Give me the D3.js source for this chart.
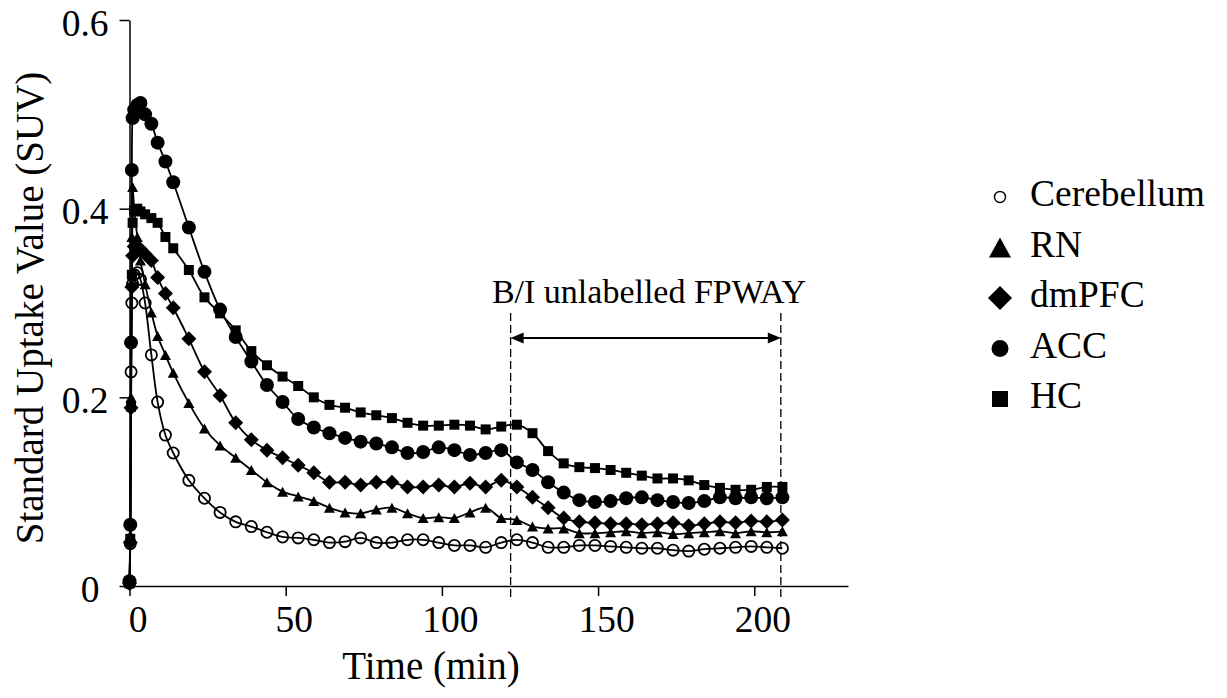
<!DOCTYPE html>
<html>
<head>
<meta charset="utf-8">
<script src="https://cdn.jsdelivr.net/npm/d3@7"></script>
<style>
    html, body { margin: 0; padding: 0; background: #fff; }
    svg text { font-family: "Liberation Serif", "Tinos", "Times New Roman", "DejaVu Serif", serif; fill: #000; }
</style>
</head>
<body>
<div id="chart"></div>
<script>
// frame mid-times (min)
const times = [0, 0.25, 0.5, 0.75, 1, 1.5, 2.5, 3.5, 5, 7, 9, 11.5,
    14, 19, 24, 29, 34, 39, 44, 49,
    54, 59, 64, 69, 74, 79, 84, 89, 94, 99, 104, 109, 114, 119, 124, 129, 134, 139, 144, 149,
    154, 159, 164, 169, 174, 179, 184, 189, 194, 199, 204, 209];

const cerebellum = [0.003, 0.045, 0.227, 0.30, 0.32, 0.33, 0.332, 0.325, 0.30, 0.245, 0.195, 0.16,
    0.141, 0.112, 0.093, 0.078, 0.068, 0.063, 0.057, 0.052,
    0.051, 0.049, 0.046, 0.047, 0.051, 0.046, 0.046, 0.049, 0.049, 0.046, 0.043, 0.043, 0.041, 0.046, 0.049, 0.046, 0.041, 0.041, 0.043, 0.043,
    0.042, 0.041, 0.040, 0.040, 0.038, 0.037, 0.039, 0.040, 0.041, 0.042, 0.041, 0.040];

const rn = [0.003, 0.054, 0.20, 0.37, 0.423, 0.40, 0.37, 0.345, 0.32, 0.29, 0.265, 0.245,
    0.226, 0.194, 0.167, 0.149, 0.136, 0.123, 0.110, 0.100,
    0.095, 0.090, 0.083, 0.078, 0.077, 0.081, 0.083, 0.077, 0.072, 0.073, 0.072, 0.078, 0.083, 0.072, 0.070, 0.063, 0.061, 0.061, 0.056, 0.056,
    0.057, 0.058, 0.056, 0.057, 0.055, 0.056, 0.057, 0.058, 0.056, 0.058, 0.057, 0.058];

const dmpfc = [0.003, 0.046, 0.189, 0.317, 0.35, 0.36, 0.36, 0.357, 0.352, 0.345, 0.327, 0.31,
    0.295, 0.262, 0.227, 0.202, 0.173, 0.155, 0.144, 0.136,
    0.128, 0.120, 0.110, 0.110, 0.107, 0.110, 0.110, 0.105, 0.105, 0.107, 0.105, 0.109, 0.105, 0.112, 0.105, 0.094, 0.083, 0.072, 0.068, 0.067,
    0.066, 0.066, 0.065, 0.066, 0.067, 0.064, 0.066, 0.068, 0.067, 0.069, 0.068, 0.070];

const acc = [0.005, 0.065, 0.258, 0.441, 0.496, 0.505, 0.51, 0.512, 0.50, 0.49, 0.47, 0.45,
    0.428, 0.38, 0.333, 0.293, 0.264, 0.238, 0.213, 0.195,
    0.177, 0.168, 0.162, 0.157, 0.153, 0.151, 0.147, 0.141, 0.142, 0.147, 0.144, 0.139, 0.141, 0.144, 0.131, 0.123, 0.110, 0.099, 0.091, 0.089,
    0.090, 0.093, 0.094, 0.091, 0.089, 0.088, 0.090, 0.094, 0.093, 0.094, 0.093, 0.094];

const hc = [0.005, 0.05, 0.19, 0.33, 0.385, 0.398, 0.40, 0.397, 0.394, 0.39, 0.385, 0.37,
    0.358, 0.335, 0.306, 0.289, 0.271, 0.249, 0.234, 0.222,
    0.212, 0.200, 0.192, 0.189, 0.184, 0.181, 0.178, 0.173, 0.170, 0.170, 0.171, 0.170, 0.166, 0.169, 0.171, 0.162, 0.143, 0.130, 0.126, 0.125,
    0.123, 0.120, 0.117, 0.114, 0.114, 0.112, 0.107, 0.104, 0.102, 0.102, 0.105, 0.105];

const seriesNames = ['Cerebellum', 'RN', 'dmPFC', 'ACC', 'HC'];
const xTicks = [0, 50, 100, 150, 200];
const yTicks = [0, 0.2, 0.4, 0.6];
// B/I of unlabelled FPWAY (min)
const fpwayStart = 122;
const fpwayEnd = 208.5;

const series = [
    { name: seriesNames[0], values: cerebellum, shape: 'ocircle' },
    { name: seriesNames[1], values: rn, shape: 'triangle' },
    { name: seriesNames[2], values: dmpfc, shape: 'diamond' },
    { name: seriesNames[3], values: acc, shape: 'circle' },
    { name: seriesNames[4], values: hc, shape: 'square' }
];

const width = 1227;
const height = 698;
const fontSize = 37.5;
const titleSize = 39;
const fontFamily = '"Liberation Serif", Tinos, "Times New Roman", "DejaVu Serif", serif';

const svg = d3.select('#chart').append('svg')
    .attr('width', width)
    .attr('height', height)
    .attr('font-family', fontFamily)
    .style('background', '#fff');

const x = d3.scaleLinear().domain([0, 230]).range([129.5, 848]);
const y = d3.scaleLinear().domain([0, 0.6]).range([586, 20]);

// marker shapes, bigger ones for the legend
function markerPath(shape, legend) {
    let r;
    switch (shape) {
        case 'ocircle':
            r = legend ? 5.5 : 5.6;
            return `M${-r},0a${r},${r} 0 1,0 ${2 * r},0a${r},${r} 0 1,0 ${-2 * r},0Z`;
        case 'circle':
            r = legend ? 8.5 : 7;
            return `M${-r},0a${r},${r} 0 1,0 ${2 * r},0a${r},${r} 0 1,0 ${-2 * r},0Z`;
        case 'triangle': {
            const w = legend ? 22 : 11;
            const h = legend ? 20 : 10;
            return `M0,${-h / 2}L${w / 2},${h / 2}L${-w / 2},${h / 2}Z`;
        }
        case 'diamond':
            r = legend ? 12 : 7.5;
            return `M0,${-r}L${r},0L0,${r}L${-r},0Z`;
        case 'square':
            r = legend ? 8 : 5;
            return `M${-r},${-r}h${2 * r}v${2 * r}h${-2 * r}Z`;
    }
}

function styleMarker(sel, shape, legend) {
    if (shape === 'ocircle') {
        sel.attr('fill', 'none').attr('stroke', '#000').attr('stroke-width', legend ? 1.4 : 1.8);
    } else {
        sel.attr('fill', '#000').attr('stroke', 'none');
    }
}

// axes
const xAxis = d3.axisBottom(x)
    .tickValues(xTicks)
    .tickSize(10)
    .tickSizeOuter(0)
    .tickFormat(d3.format('d'));

const yAxis = d3.axisLeft(y)
    .tickValues(yTicks)
    .tickSize(10)
    .tickSizeOuter(0)
    .tickFormat(d => d === 0 ? '0' : d3.format('.1f')(d));

const gx = svg.append('g')
    .attr('transform', `translate(0,${y(0)})`)
    .call(xAxis);
gx.attr('font-size', null).attr('font-family', fontFamily);
gx.selectAll('text')
    .attr('y', 46)
    .attr('x', 8)
    .attr('dy', null)
    .style('font-size', fontSize + 'px');

const gy = svg.append('g')
    .attr('transform', `translate(${x(0)},0)`)
    .call(yAxis);
gy.attr('font-size', null).attr('font-family', fontFamily);
gy.selectAll('text')
    .attr('x', d => d === 0 ? -30 : -21)
    .attr('y', 15)
    .attr('dy', null)
    .style('font-size', fontSize + 'px');

svg.selectAll('.domain, .tick line')
    .attr('stroke', '#000')
    .attr('stroke-width', 1.5);

// axis titles
svg.append('text')
    .attr('x', 431)
    .attr('y', 679)
    .attr('text-anchor', 'middle')
    .style('font-size', titleSize + 'px')
    .text('Time (min)');

svg.append('text')
    .attr('transform', 'translate(43,308) rotate(-90)')
    .attr('text-anchor', 'middle')
    .style('font-size', titleSize + 'px')
    .text('Standard Uptake Value (SUV)');

// FPWAY annotation
const annot = svg.append('g');
[fpwayStart, fpwayEnd].forEach(t => {
    annot.append('line')
        .attr('x1', x(t)).attr('x2', x(t))
        .attr('y1', 313).attr('y2', 599)
        .attr('stroke', '#000')
        .attr('stroke-width', 1.3)
        .attr('stroke-dasharray', '8,4');
});
const arrowY = 338;
annot.append('line')
    .attr('x1', x(fpwayStart) + 6).attr('x2', x(fpwayEnd) - 6)
    .attr('y1', arrowY).attr('y2', arrowY)
    .attr('stroke', '#000')
    .attr('stroke-width', 1.8);
annot.append('path')
    .attr('d', `M${x(fpwayStart)},${arrowY}l13,-5.5v11Z`)
    .attr('fill', '#000');
annot.append('path')
    .attr('d', `M${x(fpwayEnd)},${arrowY}l-13,-5.5v11Z`)
    .attr('fill', '#000');
annot.append('text')
    .attr('x', 649)
    .attr('y', 303)
    .attr('text-anchor', 'middle')
    .style('font-size', '34px')
    .text('B/I unlabelled FPWAY');

// series
const line = d3.line()
    .x(d => x(d[0]))
    .y(d => y(d[1]))
    .curve(d3.curveCatmullRom.alpha(0.5));

series.forEach(s => {
    const pts = times.map((t, i) => [t, s.values[i]]);
    const g = svg.append('g');
    g.append('path')
        .attr('d', line(pts))
        .attr('fill', 'none')
        .attr('stroke', '#000')
        .attr('stroke-width', 1.8);
    g.selectAll('path.mk')
        .data(pts)
        .join('path')
        .attr('class', 'mk')
        .attr('d', markerPath(s.shape, false))
        .attr('transform', d => `translate(${x(d[0])},${y(d[1])})`)
        .call(styleMarker, s.shape, false);
});

// legend
const legend = svg.append('g').attr('transform', 'translate(1000,197)');
series.forEach((s, i) => {
    const row = legend.append('g').attr('transform', `translate(0,${i * 50.5})`);
    row.append('path')
        .attr('d', markerPath(s.shape, true))
        .call(styleMarker, s.shape, true);
    row.append('text')
        .attr('x', 30)
        .attr('y', 9)
        .style('font-size', fontSize + 'px')
        .text(s.name);
});
</script>
</body>
</html>
